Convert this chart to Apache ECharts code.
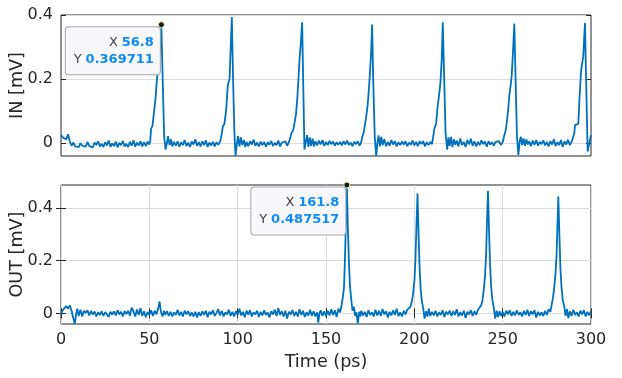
<!DOCTYPE html>
<html lang="en">
<head>
    <meta charset="UTF-8">
    <title>IN / OUT</title>
    <script src="https://cdn.jsdelivr.net/npm/echarts@6.0.0/dist/echarts.min.js"></script>
    <style>
        * { margin: 0; padding: 0 }
        html, body { width: 100%; height: 100%; background: #fff; }
        #main { width: 622px; height: 378px; }
    </style>
</head>
<body>
<div id="main"></div>
<script type="text/javascript">
    // time (ps) and signal (mV)
    var inTime = [0,1,2,3,4,5,6,7,8,9,10,11,12,13,14,15,16,17,18,19,20,21,22,23,24,25,26,27,28,29,30,31,32,33,34,35,36,37,38,39,40,41,42,43,44,45,46,47,48,49,50,
        50.5,51,51.8,52.6,53.5,54.3,55.2,56,56.8,57.6,58.4,59.2,60,60.6,61.5,62.3,63,64,65,66,67,68,69,70,71,72,73,74,75,76,77,78,79,80,81,82,83,84,85,86,87,88,89,90,
        90.7,91.6,92.5,93.5,94.4,95.4,96,96.7,97.4,98.1,98.8,99.5,100.2,101,101.8,102.6,103.5,104.3,105,106,107,108,109,110,111,112,113,114,115,116,117,118,119,120,121,122,123,124,125,126,127,128,129,130,
        130.6,131.4,132.2,133,133.7,134.4,135,135.7,136.5,137.2,137.8,138.6,139.3,140,140.8,141.6,142.4,143.2,144,145,146,147,148,149,150,151,152,153,154,155,156,157,158,159,160,161,162,163,164,165,166,167,168,169,170,
        170.5,171.2,171.8,172.7,173.6,174.3,175,175.6,176.1,176.8,177.6,178.4,179.1,179.8,180.5,181.3,182.1,183,184,185,186,187,188,189,190,191,192,193,194,195,196,197,198,199,200,201,202,203,204,205,206,207,208,209,210,
        210.4,211.4,212.3,213.2,214,214.8,215.5,216.1,216.8,217.7,218.6,219.3,220,220.8,221.6,222.4,223.2,224,225,226,227,228,229,230,231,232,233,234,235,236,237,238,239,240,241,242,243,244,245,246,247,248,249,250,
        250.9,251.7,252.5,253.2,253.8,254.5,255.1,255.8,256.6,257.3,258.1,258.9,259.6,260.3,261,261.8,262.6,263.4,264.2,265,266,267,268,269,270,271,272,273,274,275,276,277,278,279,280,281,282,283,284,285,286,287,288,289,290,
        290.5,291,291.9,292.8,293.5,294.3,295,295.6,296.6,297.3,298.1,298.8,299.4,300];
    var inValues = [0.025,0.018,0.022,0.012,0.028,0.005,-0.008,0.002,-0.010,-0.004,-0.012,0.000,-0.008,-0.002,-0.011,0.004,-0.009,-0.003,-0.013,0.002,-0.006,0.006,-0.010,-0.002,-0.012,0.003,-0.007,0.008,-0.011,-0.001,-0.009,0.005,-0.013,0.001,-0.006,0.007,-0.010,-0.002,-0.012,0.004,-0.008,0.009,-0.011,0.002,-0.007,0.006,-0.010,0.003,-0.009,0.005,-0.004,
        0.006,0.045,0.055,0.06,0.14,0.2,0.25,0.29,0.369711,0.19,0.02,-0.02,0.002,0.022,-0.006,0.012,-0.01,0.004,-0.008,0.006,-0.011,0.003,-0.006,0.01,-0.009,0.002,-0.012,0.005,-0.004,0.012,-0.008,0.003,-0.01,0.006,-0.006,0.009,-0.012,0.002,-0.007,0.004,-0.01,0.003,-0.005,0.004,
        0.02,0.052,0.06,0.104,0.18,0.2,0.29,0.394,0.2,0.04,-0.04,-0.005,0.022,-0.01,0.018,-0.006,0.01,-0.012,0.004,-0.009,0.006,-0.004,0.011,-0.008,0.002,-0.01,0.005,-0.006,0.004,-0.011,0.003,-0.005,0.007,-0.009,0.001,-0.006,0.008,-0.01,0.002,-0.004,0.006,-0.008,0.003,0.005,
        0.033,0.04,0.063,0.09,0.135,0.2,0.26,0.31,0.377,0.16,-0.02,0.005,0.025,-0.012,0.018,-0.008,0.014,-0.01,0.006,-0.007,0.008,-0.004,0.01,-0.009,0.004,-0.006,0.007,-0.003,0.005,-0.008,0.003,-0.005,0.004,-0.007,0.006,-0.004,0.008,-0.006,0.002,-0.009,0.004,-0.003,0.006,-0.008,0.004,
        0.02,0.03,0.036,0.08,0.12,0.17,0.23,0.29,0.37,0.18,0.02,-0.04,0.0,0.024,-0.01,0.02,-0.006,0.012,-0.01,0.004,-0.008,0.01,-0.004,0.006,-0.01,0.003,-0.006,0.005,-0.004,0.006,-0.009,0.002,-0.005,0.008,-0.007,0.004,-0.009,0.006,-0.003,0.007,-0.01,0.003,-0.006,0.004,-0.003,
        0.01,0.047,0.06,0.115,0.15,0.19,0.26,0.377,0.22,0.03,-0.02,0.018,-0.008,0.02,-0.012,0.012,-0.005,0.008,-0.01,0.015,-0.006,0.004,-0.012,0.01,-0.004,0.014,-0.008,0.006,-0.01,0.004,-0.006,0.009,-0.003,0.005,-0.011,0.006,-0.004,0.003,-0.008,0.004,-0.002,0.006,-0.006,0.004,
        0.023,0.04,0.073,0.11,0.15,0.18,0.21,0.28,0.373,0.2,0.02,-0.037,0.005,0.02,-0.006,0.015,-0.008,0.012,-0.004,0.006,-0.009,0.008,-0.005,0.01,-0.008,0.004,-0.003,0.009,-0.007,0.004,-0.01,0.006,-0.004,0.012,-0.009,0.003,-0.006,0.01,-0.012,0.005,-0.004,0.011,-0.006,0.004,0.008,
        0.03,0.057,0.058,0.06,0.14,0.22,0.25,0.27,0.375,0.18,-0.026,-0.03,0.01,0.025];

    var outTime = [0,1,2,3,4,5,6,7,7.8,8.5,9.2,10,11,12,13,14,15,16,17,18,19,20,21,22,23,24,25,26,27,28,29,30,31,32,33,34,35,36,37,38,39,40,41,42,43,44,45,46,47,48,49,50,51,52,53,54,55,55.8,56.6,57.5,58.3,59,60,
        61,62,63,64,65,66,67,68,69,70,71,72,73,74,75,76,77,78,79,80,81,82,83,84,85,86,87,88,89,90,91,92,93,94,95,96,97,98,99,100,101,102,103,104,105,106,107,108,109,110,111,112,113,114,115,116,117,118,119,120,
        121,122,123,124,125,126,127,128,129,130,131,132,133,134,135,136,137,138,139,140,141,142,143,144,145,145.6,146.3,147,148,149,150,151,152,153,154,155,156,157,158,158.8,159.5,160.2,160.7,161.2,161.8,162.4,163,163.6,164.2,165,165.8,166.5,167.2,168,168.8,169.5,
        170,171,172,173,174,175,176,177,178,179,180,181,182,183,184,185,186,187,188,189,190,191,192,193,194,195,196,197,197.8,198.6,199.4,200.1,200.6,201.2,201.8,202.4,203,203.6,204.2,205,205.8,206.6,207.4,208.2,209,
        210,211,212,213,214,215,216,217,218,219,220,221,222,223,224,225,226,227,228,229,230,231,232,233,234,235,236,237,237.8,238.6,239.3,240,240.6,241.1,241.7,242.3,242.9,243.5,244.2,245,245.8,246.6,247.4,248.2,249,
        250,251,252,253,254,255,256,257,258,259,260,261,262,263,264,265,266,267,268,269,270,271,272,273,274,275,276,277,277.8,278.5,279.2,279.9,280.5,281,281.5,282.1,282.7,283.3,284,284.8,285.6,286.4,287.2,288,
        289,290,291,292,293,294,295,296,297,298,299,300];
    var outValues = [-0.002,0.012,0.02,0.028,0.018,0.03,0.01,-0.02,-0.04,-0.005,0.018,-0.01,0.014,-0.012,0.01,0.002,0.012,-0.008,0.009,-0.004,0.007,-0.012,0.004,-0.006,0.008,-0.01,0.005,0.0,-0.014,0.006,-0.005,0.008,-0.008,0.012,-0.004,0.006,-0.012,0.009,-0.003,0.01,-0.009,0.022,0.008,-0.012,0.015,-0.006,0.02,-0.01,0.008,-0.015,0.005,-0.006,0.012,-0.01,0.01,-0.004,0.018,0.045,0.005,-0.012,0.01,-0.006,0.008,
        -0.01,0.006,-0.012,0.004,-0.006,0.014,-0.008,0.006,-0.012,0.01,-0.004,0.008,-0.01,0.004,-0.012,0.006,-0.016,0.005,-0.01,0.008,-0.006,0.01,-0.015,0.006,-0.004,0.012,-0.01,0.002,0.016,-0.008,0.01,-0.012,0.004,-0.004,0.014,-0.01,0.006,-0.012,0.008,-0.006,0.018,-0.008,0.006,-0.015,0.01,-0.005,0.012,-0.012,0.004,-0.004,0.01,-0.014,0.006,-0.008,0.012,-0.006,0.004,-0.016,0.008,-0.004,
        0.014,-0.01,0.02,-0.006,0.008,-0.012,0.01,-0.02,0.006,-0.004,0.012,-0.01,0.006,-0.012,0.016,-0.006,0.01,-0.014,0.004,-0.008,0.014,-0.01,0.008,-0.012,0.004,-0.035,0.0,0.012,-0.01,0.008,-0.012,0.01,-0.008,0.016,-0.006,0.012,-0.014,0.018,0.004,0.03,0.06,0.1,0.2,0.33,0.487517,0.32,0.19,0.1,0.06,0.01,0.025,-0.01,0.004,-0.038,0.006,-0.012,
        0.01,-0.008,0.006,-0.014,0.012,-0.006,0.004,-0.012,0.014,-0.008,0.01,-0.01,0.016,-0.004,0.008,-0.016,0.006,-0.008,0.012,-0.006,0.018,-0.01,0.004,-0.012,0.01,-0.004,0.014,0.008,0.025,0.045,0.08,0.13,0.2,0.33,0.455,0.3,0.17,0.09,0.05,0.02,-0.02,0.008,-0.012,0.018,-0.01,
        0.006,-0.008,0.01,-0.012,0.004,-0.006,0.012,-0.014,0.006,-0.004,0.01,-0.01,0.008,-0.006,0.016,-0.012,0.004,-0.008,0.01,-0.018,0.006,-0.004,0.012,-0.01,0.008,-0.006,0.014,0.008,0.03,0.05,0.09,0.14,0.22,0.34,0.465,0.31,0.18,0.1,0.05,0.02,-0.02,0.01,-0.014,0.008,-0.01,
        0.006,-0.012,0.01,-0.004,0.012,-0.01,0.006,-0.008,0.012,-0.006,0.004,-0.012,0.01,-0.006,0.014,-0.01,0.008,-0.004,0.012,-0.016,0.006,-0.008,0.004,-0.01,0.01,-0.006,0.016,0.006,0.035,0.06,0.1,0.15,0.22,0.33,0.444,0.3,0.17,0.1,0.05,0.03,-0.01,0.016,-0.018,0.008,
        -0.01,0.014,-0.006,0.004,-0.012,0.01,-0.004,0.012,-0.012,0.006,-0.008,0.008];

    // data tips shown on the plot
    var inTip = [56.8, 0.369711];
    var outTip = [161.8, 0.487517];
    var yTicks = [0, 0.2, 0.4];

    function zip(t, v) {
        return t.map(function (x, i) { return [x, v[i]]; });
    }

    var txt = '#262626';
    var font = 'DejaVu Sans';

    function tipPoint(c) {
        return {
            symbol: 'circle',
            symbolSize: 6,
            itemStyle: { color: '#1a1a1a', borderColor: '#f3eeb0', borderWidth: 1 },
            label: {
                show: true,
                position: [2, 6],
                align: 'right',
                verticalAlign: 'top',
                formatter: '{k|X} {v|' + c[0] + '}\n{k|Y} {v|' + c[1] + '}',
                backgroundColor: '#f8f8fc',
                borderColor: '#a6a6a6',
                borderWidth: 1,
                borderRadius: 3,
                padding: [7, 6, 6, 8],
                rich: {
                    k: { color: '#404040', fontSize: 13, fontFamily: font, lineHeight: 17, align: 'right' },
                    v: { color: '#0d8cf2', fontSize: 13, fontWeight: 'bold', fontFamily: font, lineHeight: 17, align: 'right' }
                }
            },
            data: [{ coord: c }]
        };
    }

    function yAxis(grid, min, max, name, right) {
        return {
            type: 'value', gridIndex: grid, min: min, max: max,
            position: right ? 'right' : 'left',
            name: right ? '' : name,
            nameLocation: 'middle', nameGap: 35, nameMoveOverlap: false,
            nameTextStyle: { color: txt, fontSize: 17.6, fontFamily: font },
            axisLine: { show: false },
            axisTick: { show: true, inside: true, length: 5, customValues: yTicks, lineStyle: { color: txt } },
            axisLabel: { show: !right, customValues: yTicks, margin: 8, color: txt, fontSize: 16, fontFamily: font },
            splitLine: { show: !right, lineStyle: { color: '#dcdcdc' } }
        };
    }

    var myChart = echarts.init(document.getElementById('main'));
    var option = {
        animation: false,
        textStyle: { fontFamily: font },
        grid: [
            { left: 61, top: 15, width: 530, height: 141, containLabel: false, outerBoundsMode: 'none',
              show: true, borderColor: txt, borderWidth: 1 },
            { left: 61, top: 185, width: 530, height: 139, containLabel: false, outerBoundsMode: 'none',
              show: true, borderColor: txt, borderWidth: 1 }
        ],
        xAxis: [
            { type: 'value', gridIndex: 0, min: 0, max: 300, interval: 50,
              axisLine: { show: false }, axisTick: { show: false }, axisLabel: { show: false }, splitLine: { show: false } },
            { type: 'value', gridIndex: 1, min: 0, max: 300, interval: 50,
              name: 'Time (ps)', nameLocation: 'middle', nameGap: 29, nameMoveOverlap: false,
              nameTextStyle: { color: txt, fontSize: 17.6, fontFamily: font },
              axisLine: { show: false },
              axisTick: { inside: true, length: 5, lineStyle: { color: txt } },
              axisLabel: { margin: 8, color: txt, fontSize: 16, fontFamily: font },
              splitLine: { show: true, lineStyle: { color: '#dcdcdc' } } },
            { type: 'value', gridIndex: 1, min: 0, max: 300, interval: 50, position: 'top',
              axisLine: { show: false }, axisTick: { inside: true, length: 5, lineStyle: { color: txt } },
              axisLabel: { show: false }, splitLine: { show: false } }
        ],
        yAxis: [
            yAxis(0, -0.04, 0.4, 'IN [mV]', false),
            yAxis(0, -0.04, 0.4, '', true),
            yAxis(1, -0.0404, 0.487517, 'OUT [mV]', false),
            yAxis(1, -0.0404, 0.487517, '', true)
        ],
        series: [
            { name: 'IN', type: 'line', xAxisIndex: 0, yAxisIndex: 0, data: zip(inTime, inValues),
              showSymbol: false, lineStyle: { color: '#0072BD', width: 1.8 }, itemStyle: { color: '#0072BD' },
              markPoint: tipPoint(inTip) },
            { name: 'OUT', type: 'line', xAxisIndex: 1, yAxisIndex: 2, data: zip(outTime, outValues),
              showSymbol: false, lineStyle: { color: '#0072BD', width: 1.8 }, itemStyle: { color: '#0072BD' },
              markPoint: tipPoint(outTip) }
        ]
    };
    myChart.setOption(option);
</script>
</body>
</html>
